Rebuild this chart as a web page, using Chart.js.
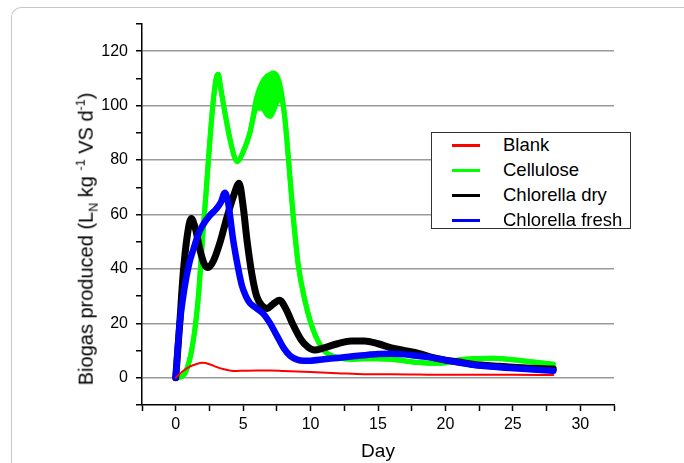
<!DOCTYPE html>
<html>
<head>
<meta charset="utf-8">
<script src="https://cdn.jsdelivr.net/npm/chart.js@4.4.1/dist/chart.umd.min.js"></script>
<style>
  html, body { margin: 0; padding: 0; background: #fff; }
  #wrap { position: relative; width: 684px; height: 463px; overflow: hidden; font-family: "Liberation Sans", Arial, sans-serif; }
  #frame { position: absolute; left: 11px; top: 7px; width: 700px; height: 500px; border-top: 1.5px solid #c8c8c8; border-left: 1.5px solid #c8c8c8; border-top-left-radius: 10px; }
  #biogas-chart { position: absolute; left: 0; top: 0; }
  #ytitle { position: absolute; left: 87px; top: 239px; transform: translate(-50%, -50%) rotate(-90deg); white-space: nowrap; font-size: 20px; color: #000; }
  #ytitle sub, #ytitle sup { font-size: 12.5px; }
  #legend { position: absolute; left: 431px; top: 132px; width: 200px; height: 97px; border: 1px solid #333; background: #fff; box-sizing: border-box; }
  .lg-row { position: absolute; left: 0; height: 25px; width: 100%; }
  .lg-line { position: absolute; left: 20px; top: 11px; width: 28px; height: 3px; }
  .lg-text { position: absolute; left: 71px; top: 1px; font-size: 18.5px; line-height: 22px; color: #000; white-space: nowrap; }
</style>
</head>
<body>
<div id="wrap">
  <div id="frame"></div>
  <canvas id="biogas-chart" width="684" height="463"></canvas>
  <div id="ytitle">Biogas produced (L<sub>N</sub> kg <sup>-1</sup> VS d<sup>-1</sup>)</div>
  <div id="legend"></div>
</div>
<script>
// values (day, L_N per kg VS per day)
const blankDays = [0, 0.5, 1, 1.5, 2, 2.5, 3, 3.5, 4, 4.5, 5, 6, 7, 8, 10, 12, 14, 16, 18, 20, 22, 25, 28];
const blankVals = [0, 2.3, 4, 5, 5.5, 5, 4, 3.2, 2.7, 2.5, 2.6, 2.7, 2.7, 2.5, 2.1, 1.7, 1.3, 1.3, 1.2, 1.1, 1.1, 1.1, 1.0];

const celluloseDays = [0, 0.5, 1, 1.4, 1.7, 2, 2.25, 2.5, 2.75, 3, 3.15, 3.35, 3.7, 4.1, 4.55, 5, 5.5, 6, 6.4, 6.8, 7, 7.2, 7.5, 7.8, 8.1, 8.4, 8.7, 9.1, 9.6, 10.2, 11, 12, 13, 14, 15, 16, 17, 18, 19, 20, 21, 22, 23.5, 25, 26.5, 28];
const celluloseHigh = [0, 0.5, 6, 17, 31, 52, 68, 85, 100, 110, 111.5, 106, 96, 86, 79.5, 83, 90, 103, 108.5, 111, 111.5, 112, 111, 106, 95, 78, 60, 41, 28, 17.5, 10, 7.5, 6.8, 7, 7, 6.8, 6.2, 5.6, 5.3, 5.5, 6.5, 7, 7.2, 6.6, 5.8, 5];
const celluloseLow  = [0, 0.5, 6, 17, 31, 52, 68, 85, 100, 110, 111.5, 106, 96, 86, 79.5, 83, 90, 99, 99, 96.5, 96, 97.5, 101, 103, 95, 78, 60, 41, 28, 17.5, 10, 7.5, 6.8, 7, 7, 6.8, 6.2, 5.6, 5.3, 5.5, 6.5, 7, 7.2, 6.6, 5.8, 5];

const dryDays = [0, 0.3, 0.55, 0.85, 1.15, 1.45, 1.8, 2.1, 2.4, 2.8, 3.3, 3.8, 4.3, 4.7, 5, 5.3, 5.65, 6, 6.4, 6.8, 7.2, 7.7, 8.2, 8.7, 9.3, 9.8, 10.3, 11, 12, 13, 14, 15, 16, 17, 18, 19, 20, 21, 22, 24, 26, 28];
const dryVals = [0, 20, 38, 52, 58.5, 55, 47, 42, 40.5, 43, 50, 59, 67, 71.5, 63, 50, 38, 30, 26.5, 25.5, 27, 28.5, 25, 19.5, 14, 11.3, 10.2, 11, 12.5, 13.5, 13.5, 12.5, 11, 10, 9, 7.5, 6.5, 5.8, 5, 4.2, 3.6, 3.2];

const freshDays = [0, 0.3, 0.65, 1, 1.3, 1.7, 2, 2.5, 3, 3.35, 3.65, 3.9, 4.25, 4.6, 4.9, 5.2, 5.5, 6, 6.5, 7, 7.5, 8, 8.5, 9, 9.5, 10, 11, 12, 13, 14, 15, 16, 17, 18, 19, 20, 21, 22, 24, 26, 28];
const freshVals = [0, 20, 33, 42, 47, 53, 56, 59.5, 62, 64.5, 68, 64, 51, 41, 34, 30, 27.5, 25.5, 23.5, 20, 15.5, 11, 8, 6.7, 6.3, 6.3, 6.8, 7.3, 7.8, 8.3, 8.7, 8.8, 8.6, 8, 7.4, 6.5, 5.6, 4.8, 3.9, 3.2, 2.6];

const seriesNames = ["Blank", "Cellulose", "Chlorella dry", "Chlorella fresh"];
const seriesColors = ["#ff0000", "#00ff00", "#000000", "#0000ff"];

const toPoints = (xs, ys) => xs.map((x, i) => ({ x: x, y: ys[i] }));
const FONT = "'Liberation Sans', Arial, sans-serif";

new Chart(document.getElementById("biogas-chart"), {
  type: "line",
  data: {
    datasets: [
      { label: seriesNames[0], data: toPoints(blankDays, blankVals), borderColor: seriesColors[0], borderWidth: 2, order: 0 },
      { label: seriesNames[1], data: toPoints(celluloseDays, celluloseHigh), borderColor: seriesColors[1], borderWidth: 5, order: 3 },
      { label: seriesNames[1] + " low", data: toPoints(celluloseDays, celluloseLow), borderColor: seriesColors[1], backgroundColor: seriesColors[1], fill: "-1", borderWidth: 5, order: 3 },
      { label: seriesNames[2], data: toPoints(dryDays, dryVals), borderColor: seriesColors[2], borderWidth: 7, order: 2 },
      { label: seriesNames[3], data: toPoints(freshDays, freshVals), borderColor: seriesColors[3], borderWidth: 6.5, order: 1 },
    ],
  },
  options: {
    responsive: false,
    animation: false,
    layout: { padding: { left: 0, top: 24, right: 70, bottom: 0 } },
    elements: {
      point: { radius: 0 },
      line: { cubicInterpolationMode: "monotone", borderCapStyle: "round", borderJoinStyle: "round" }
    },
    plugins: {
      legend: { display: false },
      tooltip: { enabled: false }
    },
    scales: {
      x: {
        type: "linear",
        min: -2.5,
        max: 32.5,
        ticks: {
          stepSize: 2.5,
          autoSkip: false,
          maxRotation: 0,
          padding: 4,
          color: "#000",
          font: { size: 16, family: FONT },
          callback: v => (v % 5 === 0 ? v : "")
        },
        grid: { drawOnChartArea: false, tickColor: "#000", tickLength: 6, tickWidth: 1.5 },
        border: { color: "#000", width: 1.5 },
        title: { display: true, text: "Day", color: "#000", font: { size: 19, family: FONT }, padding: { top: 0, bottom: 0 } },
        afterFit: s => { s.height = 58; }
      },
      y: {
        min: -10,
        max: 130,
        ticks: {
          stepSize: 10,
          autoSkip: false,
          padding: 8,
          color: "#000",
          font: { size: 16, family: FONT },
          callback: v => (v % 20 === 0 ? v : "")
        },
        grid: {
          color: c => (c.tick && c.tick.value % 20 === 0 && c.tick.value >= 0 && c.tick.value <= 120 ? "#9a9a9a" : "rgba(0,0,0,0)"),
          lineWidth: 1.5,
          tickColor: "#000",
          tickLength: 6,
          tickWidth: 1.5
        },
        border: { color: "#000", width: 1.5 },
        afterFit: s => { s.width = 142; }
      }
    }
  }
});

document.getElementById("legend").innerHTML = seriesNames.map((name, i) => `
  <div class="lg-row" style="top:${i * 25}px">
    <div class="lg-line" style="background:${seriesColors[i]}"></div>
    <div class="lg-text">${name}</div>
  </div>
`).join("");
</script>
</body>
</html>
